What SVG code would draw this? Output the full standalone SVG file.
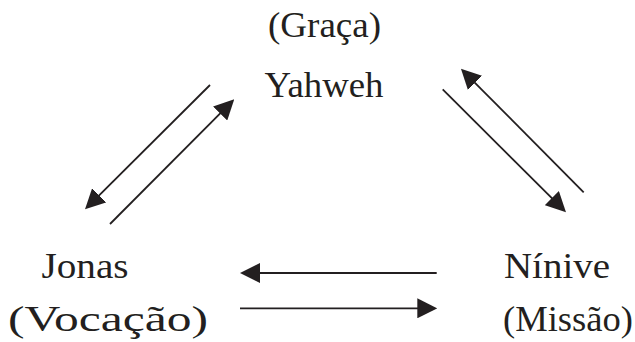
<svg xmlns="http://www.w3.org/2000/svg" width="635" height="342" viewBox="0 0 635 342">
<style>
.t{font-family:"Liberation Serif","Times New Roman",serif;font-size:36px;fill:#231f20}
.c{stroke:#231f20;stroke-width:1.8;fill:none}
</style>
<defs>
<marker id="ah" markerUnits="userSpaceOnUse" markerWidth="20" markerHeight="20" refX="10" refY="10" orient="auto">
<path d="M0,0 L20,10 L0,20 z" fill="#231f20"/>
</marker>
</defs>
<rect width="635" height="342" fill="#ffffff"/>
<g id="yahweh">
<text class="t" x="268" y="37" textLength="113" lengthAdjust="spacingAndGlyphs">(Graça)</text>
<text class="t" x="264.5" y="97" textLength="119" lengthAdjust="spacingAndGlyphs">Yahweh</text>
</g>
<g id="jonas">
<text class="t" x="41.5" y="278" textLength="87" lengthAdjust="spacingAndGlyphs">Jonas</text>
<text class="t" x="8" y="331" textLength="200" lengthAdjust="spacingAndGlyphs">(Vocação)</text>
</g>
<g id="ninive">
<text class="t" x="504" y="278" textLength="106" lengthAdjust="spacingAndGlyphs">Nínive</text>
<text class="t" x="503" y="331" textLength="130" lengthAdjust="spacingAndGlyphs">(Missão)</text>
</g>
<g id="connectors">
<path class="c" d="M210,85 L92.1,202.3" marker-end="url(#ah)"/>
<path class="c" d="M110,224 L227.2,106.4" marker-end="url(#ah)"/>
<path class="c" d="M442.7,89.3 L558.9,205.2" marker-end="url(#ah)"/>
<path class="c" d="M583.7,192.3 L468,75.8" marker-end="url(#ah)"/>
<path class="c" d="M436.7,273 L250,273" marker-end="url(#ah)"/>
<path class="c" d="M240,308.3 L427.3,308.3" marker-end="url(#ah)"/>
</g>
</svg>
